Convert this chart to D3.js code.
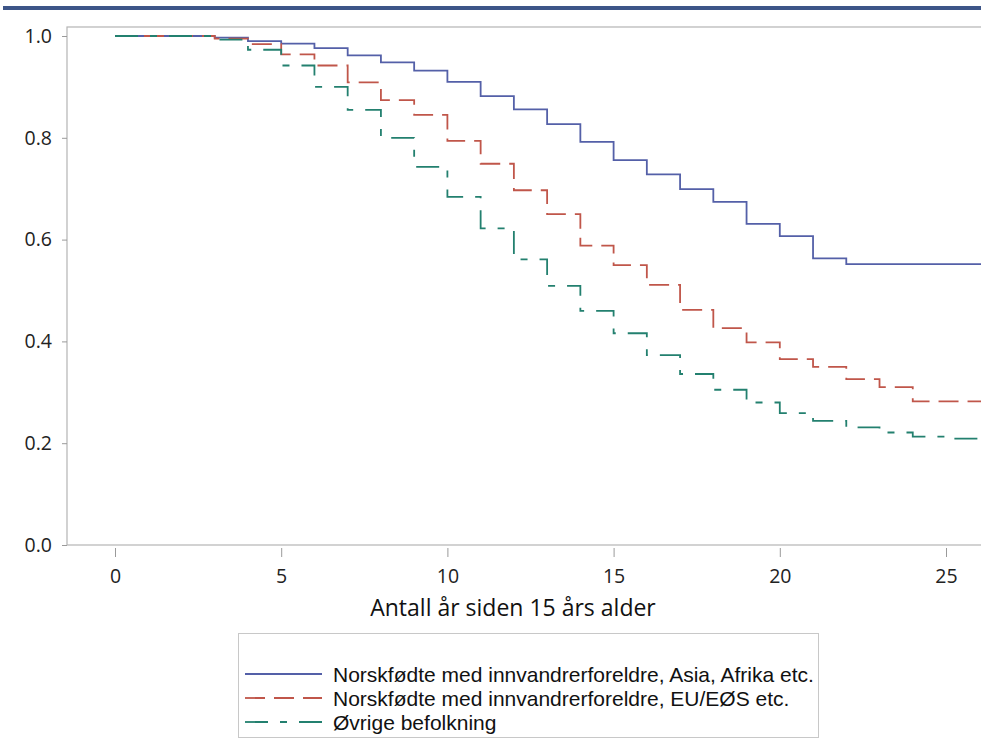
<!DOCTYPE html>
<html><head><meta charset="utf-8">
<script src="https://cdn.jsdelivr.net/npm/d3@7"></script>
<style>body{margin:0;background:#fff}svg{display:block}text{font-family:"Open Sans","Noto Sans",sans-serif}</style>
</head><body>
<script>
const years = d3.range(0, 27);
const seriesNames = [
  "Norskfødte med innvandrerforeldre, Asia, Afrika etc.",
  "Norskfødte med innvandrerforeldre, EU/EØS etc.",
  "Øvrige befolkning"
];
const asiaAfrika = [1.0,1.0,1.0,0.997,0.99,0.985,0.976,0.962,0.948,0.932,0.91,0.882,0.856,0.827,0.792,0.756,0.728,0.699,0.674,0.631,0.607,0.563,0.552,0.552,0.552,0.552,0.552];
const euEos = [1.0,1.0,1.0,0.995,0.984,0.964,0.942,0.909,0.874,0.845,0.794,0.749,0.697,0.650,0.588,0.550,0.511,0.462,0.426,0.398,0.365,0.350,0.326,0.310,0.282,0.282,0.282];
const ovrige = [1.0,1.0,1.0,0.993,0.973,0.942,0.900,0.855,0.800,0.743,0.684,0.622,0.561,0.509,0.460,0.416,0.373,0.336,0.305,0.280,0.259,0.244,0.231,0.221,0.213,0.209,0.209];
const xTicks = [0,5,10,15,20,25];
const yTicks = [0,0.2,0.4,0.6,0.8,1.0];
const xTitle = "Antall år siden 15 års alder";

(function(){
const W = 981, H = 747;
const svg = d3.select("body").append("svg").attr("width", W).attr("height", H);

// header bar
svg.append("rect").attr("x", 3).attr("y", 6).attr("width", W).attr("height", 4).attr("fill", "#3d5588");

const pL = 67, pT = 27, pB = 545, pR = 990;
const x = d3.scaleLinear().domain([0, 25]).range([115, 946]);
const y = d3.scaleLinear().domain([0, 1]).range([pB, 36]);

// frame
svg.append("rect").attr("x", pL).attr("y", pT).attr("width", pR - pL).attr("height", pB - pT)
  .attr("fill", "none").attr("stroke", "#b4b4b4").attr("stroke-width", 1.2);

// y axis
const yAxis = svg.append("g").attr("transform", `translate(${pL},0)`)
  .call(d3.axisLeft(y).tickValues(yTicks).tickFormat(d3.format(".1f")).tickSize(5).tickPadding(10));
yAxis.select(".domain").remove();
yAxis.selectAll(".tick line").attr("stroke", "#9a9a9a");
yAxis.selectAll(".tick text").attr("font-size", 19.5).attr("fill", "#222");

// x axis
const xAxis = svg.append("g").attr("transform", `translate(0,${pB + 3})`)
  .call(d3.axisBottom(x).tickValues(xTicks).tickSize(9).tickPadding(12));
xAxis.select(".domain").remove();
xAxis.selectAll(".tick line").attr("stroke", "#9a9a9a");
xAxis.selectAll(".tick text").attr("font-size", 19.5).attr("fill", "#222");

svg.append("text").attr("x", 513).attr("y", 616).attr("text-anchor", "middle")
  .attr("font-size", 23).attr("fill", "#111").text(xTitle);

// curves
const colors = ["#5460a8", "#c0564a", "#23806f"];
const dashes = [null, "20,9", "23,12,7,12"];
const data = [asiaAfrika, euEos, ovrige];
const xMax = x.invert(pR);
svg.append("clipPath").attr("id", "c").append("rect")
  .attr("x", pL).attr("y", pT).attr("width", W - pL).attr("height", pB - pT);
const line = d3.line().x(d => x(d[0])).y(d => y(d[1])).curve(d3.curveStepAfter);
data.forEach((vals, i) => {
  const pts = years.map((t, k) => [t, vals[k]]);
  pts.push([xMax, vals[vals.length - 1]]);
  svg.append("path").attr("d", line(pts)).attr("fill", "none")
    .attr("stroke", colors[i]).attr("stroke-width", 1.8)
    .attr("stroke-dasharray", dashes[i]).attr("clip-path", "url(#c)");
});

// legend
svg.append("rect").attr("x", 238.5).attr("y", 633.5).attr("width", 580).attr("height", 104)
  .attr("fill", "none").attr("stroke", "#c8c8c8").attr("stroke-width", 1);
const rowsY = [674, 698, 722];
seriesNames.forEach((name, i) => {
  svg.append("line").attr("x1", 245).attr("x2", 322).attr("y1", rowsY[i]).attr("y2", rowsY[i])
    .attr("stroke", colors[i]).attr("stroke-width", 1.8).attr("stroke-dasharray", dashes[i]);
  svg.append("text").attr("x", 333).attr("y", rowsY[i]).attr("dy", "0.36em")
    .style("font-family", "'Liberation Sans', Arial, sans-serif")
    .attr("font-size", 21).attr("fill", "#111").text(name);
});
})();
</script>
</body></html>
